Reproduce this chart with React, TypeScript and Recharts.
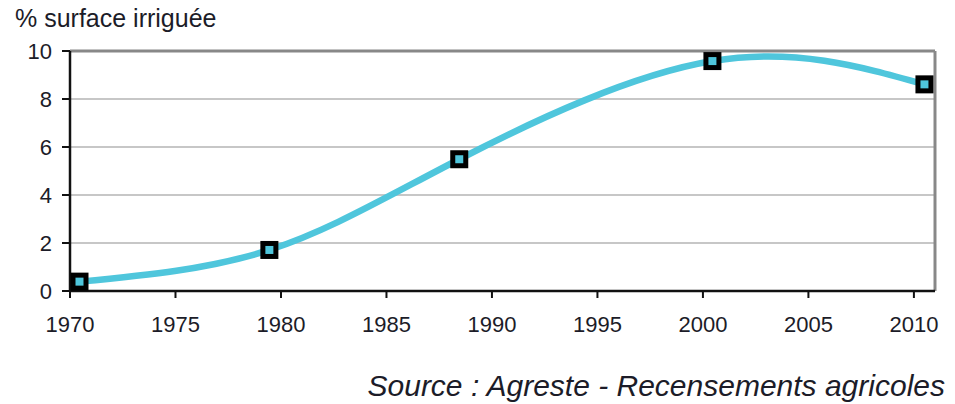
import { LineChart, Line, XAxis, YAxis, CartesianGrid, ReferenceLine } from "recharts";

// census years, placed mid-year as on the original date axis
const years = [1970.45, 1979.45, 1988.45, 2000.45, 2010.5];
const irrigatedShare = [0.39, 1.71, 5.49, 9.58, 8.61];
const xTicks = [1970, 1975, 1980, 1985, 1990, 1995, 2000, 2005, 2010];
const yTicks = [0, 2, 4, 6, 8, 10];

const data = years.map((year, i) => ({ year, value: irrigatedShare[i] }));

const font = "'Liberation Sans', Arial, sans-serif";
const textColor = "#1c1c28";

const SquareDot = (props: any) => {
  const { cx, cy } = props;
  if (cx == null || cy == null) return null;
  return (
    <rect
      x={cx - 6.5}
      y={cy - 6.5}
      width={13}
      height={13}
      fill="#4fc6dc"
      stroke="#000"
      strokeWidth={5}
    />
  );
};

export default function App() {
  return (
    <div
      style={{
        position: "absolute",
        left: 0,
        top: 0,
        width: 955,
        height: 404,
        background: "#fff",
        fontFamily: font,
      }}
    >
      <div
        style={{
          position: "absolute",
          left: 15,
          top: 4,
          fontSize: 25,
          color: textColor,
        }}
      >
        % surface irriguée
      </div>
      <LineChart
        width={955}
        height={404}
        data={data}
        margin={{ top: 51, right: 20, left: 30, bottom: 83 }}
      >
        <CartesianGrid vertical={false} stroke="#b4b4b4" strokeWidth={1.5} />
        <XAxis
          dataKey="year"
          type="number"
          domain={[1970, 2011]}
          ticks={xTicks}
          allowDataOverflow
          height={30}
          tickSize={7}
          tickMargin={18}
          axisLine={{ stroke: "#111", strokeWidth: 2.5 }}
          tickLine={{ stroke: "#111", strokeWidth: 2 }}
          tick={{ fill: textColor, fontSize: 22, fontFamily: font }}
        />
        <YAxis
          type="number"
          domain={[0, 10]}
          ticks={yTicks}
          width={40}
          tickSize={8}
          tickMargin={10}
          axisLine={{ stroke: "#111", strokeWidth: 2.5 }}
          tickLine={{ stroke: "#111", strokeWidth: 2 }}
          tick={{ fill: textColor, fontSize: 22, fontFamily: font }}
        />
        <ReferenceLine y={10} stroke="#888" strokeWidth={3} />
        <ReferenceLine x={2011} stroke="#888" strokeWidth={3} />
        <Line
          dataKey="value"
          type="natural"
          stroke="#4fc6dc"
          strokeWidth={6.5}
          dot={<SquareDot />}
          activeDot={false}
          isAnimationActive={false}
        />
      </LineChart>
      <div
        style={{
          position: "absolute",
          right: 10,
          top: 369,
          fontSize: 30,
          fontStyle: "italic",
          color: textColor,
        }}
      >
        Source : Agreste - Recensements agricoles
      </div>
    </div>
  );
}
